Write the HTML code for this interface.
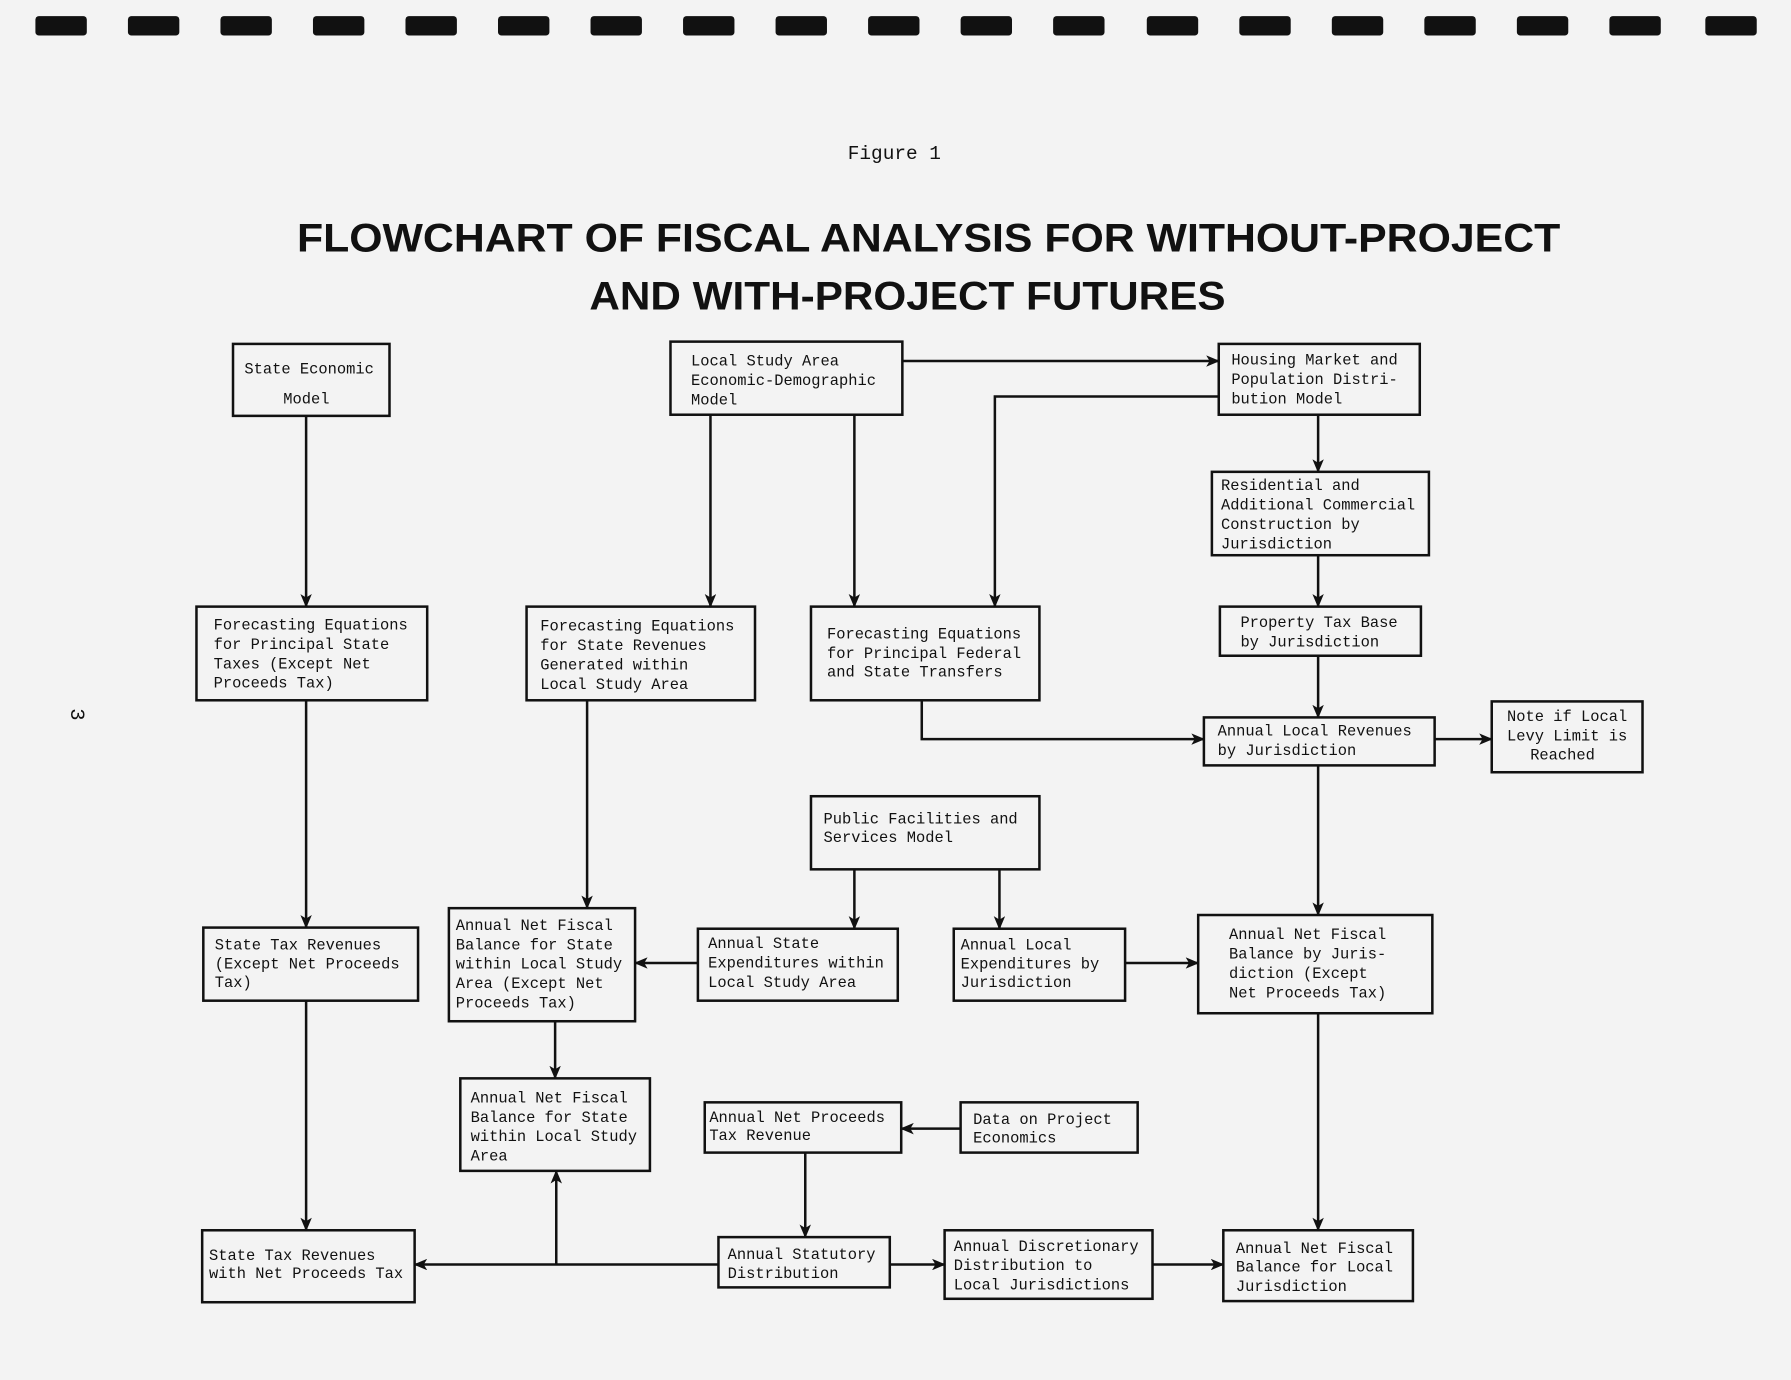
<!DOCTYPE html>
<html><head><meta charset="utf-8"><style>
html,body{margin:0;padding:0;background:#f3f3f3;}
svg{display:block}
.b{fill:none;stroke:#111;stroke-width:2.2}
.l{fill:none;stroke:#111;stroke-width:2.2}
text{font-family:"Liberation Mono",monospace;font-size:13.5px;fill:#111}
.t{font-family:"Liberation Sans",sans-serif;font-weight:bold;font-size:35px}
</style></head><body>
<svg width="1791" height="1380" viewBox="0 0 1568 1208" xmlns="http://www.w3.org/2000/svg">
<defs><marker id="a" markerWidth="12" markerHeight="10" refX="11" refY="5" orient="auto" markerUnits="userSpaceOnUse"><path d="M0,0 L12,5 L0,10 L3,5 z" fill="#111"/></marker></defs>
<g fill="#111">
<rect x="31" y="14" width="45" height="17" rx="3"/><rect x="112" y="14" width="45" height="17" rx="3"/><rect x="193" y="14" width="45" height="17" rx="3"/><rect x="274" y="14" width="45" height="17" rx="3"/><rect x="355" y="14" width="45" height="17" rx="3"/><rect x="436" y="14" width="45" height="17" rx="3"/><rect x="517" y="14" width="45" height="17" rx="3"/><rect x="598" y="14" width="45" height="17" rx="3"/><rect x="679" y="14" width="45" height="17" rx="3"/><rect x="760" y="14" width="45" height="17" rx="3"/><rect x="841" y="14" width="45" height="17" rx="3"/><rect x="922" y="14" width="45" height="17" rx="3"/><rect x="1004" y="14" width="45" height="17" rx="3"/><rect x="1085" y="14" width="45" height="17" rx="3"/><rect x="1166" y="14" width="45" height="17" rx="3"/><rect x="1247" y="14" width="45" height="17" rx="3"/><rect x="1328" y="14" width="45" height="17" rx="3"/><rect x="1409" y="14" width="45" height="17" rx="3"/><rect x="1493" y="14" width="45" height="17" rx="3"/>
</g>
<text x="783" y="139" text-anchor="middle" style="font-size:17px">Figure 1</text>
<text class="t" x="260" y="220" textLength="1106" lengthAdjust="spacingAndGlyphs">FLOWCHART OF FISCAL ANALYSIS FOR WITHOUT-PROJECT</text>
<text class="t" x="516" y="271" textLength="557" lengthAdjust="spacingAndGlyphs">AND WITH-PROJECT FUTURES</text>
<text x="62" y="620" transform="rotate(90 62 620)" style="font-size:18px">3</text>

<rect class="b" x="204" y="301" width="137" height="63"/>
<text x="214" y="327">State Economic</text><text x="248" y="353">Model</text>
<rect class="b" x="587" y="299" width="203" height="64"/>
<text x="605" y="320">Local Study Area</text><text x="605" y="337">Economic-Demographic</text><text x="605" y="354">Model</text>
<rect class="b" x="1067" y="301" width="176" height="62"/>
<text x="1078" y="319">Housing Market and</text><text x="1078" y="336">Population Distri-</text><text x="1078" y="353">bution Model</text>
<rect class="b" x="1061" y="413" width="190" height="73"/>
<text x="1069" y="429">Residential and</text><text x="1069" y="446">Additional Commercial</text><text x="1069" y="463">Construction by</text><text x="1069" y="480">Jurisdiction</text>
<rect class="b" x="172" y="531" width="202" height="82"/>
<text x="187" y="551">Forecasting Equations</text><text x="187" y="568">for Principal State</text><text x="187" y="585">Taxes (Except Net</text><text x="187" y="602">Proceeds Tax)</text>
<rect class="b" x="461" y="531" width="200" height="82"/>
<text x="473" y="552">Forecasting Equations</text><text x="473" y="569">for State Revenues</text><text x="473" y="586">Generated within</text><text x="473" y="603">Local Study Area</text>
<rect class="b" x="710" y="531" width="200" height="82"/>
<text x="724" y="559">Forecasting Equations</text><text x="724" y="576">for Principal Federal</text><text x="724" y="592">and State Transfers</text>
<rect class="b" x="1068" y="531" width="176" height="43"/>
<text x="1086" y="549">Property Tax Base</text><text x="1086" y="566">by Jurisdiction</text>
<rect class="b" x="1054" y="628" width="202" height="42"/>
<text x="1066" y="644">Annual Local Revenues</text><text x="1066" y="661">by Jurisdiction</text>
<rect class="b" x="1306" y="614" width="132" height="62"/>
<text x="1372" y="631" text-anchor="middle">Note if Local</text><text x="1372" y="648" text-anchor="middle">Levy Limit is</text><text x="1368" y="665" text-anchor="middle">Reached</text>
<rect class="b" x="710" y="697" width="200" height="64"/>
<text x="721" y="721">Public Facilities and</text><text x="721" y="737">Services Model</text>
<rect class="b" x="178" y="812" width="188" height="64"/>
<text x="188" y="831">State Tax Revenues</text><text x="188" y="848">(Except Net Proceeds</text><text x="188" y="864">Tax)</text>
<rect class="b" x="393" y="795" width="163" height="99"/>
<text x="399" y="814">Annual Net Fiscal</text><text x="399" y="831">Balance for State</text><text x="399" y="848">within Local Study</text><text x="399" y="865">Area (Except Net</text><text x="399" y="882">Proceeds Tax)</text>
<rect class="b" x="611" y="813" width="175" height="63"/>
<text x="620" y="830">Annual State</text><text x="620" y="847">Expenditures within</text><text x="620" y="864">Local Study Area</text>
<rect class="b" x="835" y="813" width="150" height="63"/>
<text x="841" y="831">Annual Local</text><text x="841" y="848">Expenditures by</text><text x="841" y="864">Jurisdiction</text>
<rect class="b" x="1049" y="801" width="205" height="86"/>
<text x="1076" y="822">Annual Net Fiscal</text><text x="1076" y="839">Balance by Juris-</text><text x="1076" y="856">diction (Except</text><text x="1076" y="873">Net Proceeds Tax)</text>
<rect class="b" x="403" y="944" width="166" height="81"/>
<text x="412" y="965">Annual Net Fiscal</text><text x="412" y="982">Balance for State</text><text x="412" y="999">within Local Study</text><text x="412" y="1016">Area</text>
<rect class="b" x="617" y="965" width="172" height="44"/>
<text x="621" y="982">Annual Net Proceeds</text><text x="621" y="998">Tax Revenue</text>
<rect class="b" x="841" y="965" width="155" height="44"/>
<text x="852" y="984">Data on Project</text><text x="852" y="1000">Economics</text>
<rect class="b" x="177" y="1077" width="186" height="63"/>
<text x="183" y="1103">State Tax Revenues</text><text x="183" y="1119">with Net Proceeds Tax</text>
<rect class="b" x="629" y="1083" width="150" height="44"/>
<text x="637" y="1102">Annual Statutory</text><text x="637" y="1119">Distribution</text>
<rect class="b" x="827" y="1077" width="182" height="60"/>
<text x="835" y="1095">Annual Discretionary</text><text x="835" y="1112">Distribution to</text><text x="835" y="1129">Local Jurisdictions</text>
<rect class="b" x="1071" y="1077" width="166" height="62"/>
<text x="1082" y="1097">Annual Net Fiscal</text><text x="1082" y="1113">Balance for Local</text><text x="1082" y="1130">Jurisdiction</text>

<g class="l" marker-end="url(#a)">
<path d="M268 364V531"/><path d="M268 613V812"/><path d="M268 876V1077"/>
<path d="M622 363V531"/><path d="M748 363V531"/>
<path d="M790 316H1067"/>
<path d="M1067 347H871V531"/>
<path d="M1154 363V413"/><path d="M1154 486V531"/><path d="M1154 574V628"/>
<path d="M807 613V647H1054"/>
<path d="M1256 647H1306"/>
<path d="M1154 670V801"/><path d="M1154 887V1077"/>
<path d="M514 613V795"/>
<path d="M748 761V813"/><path d="M875 761V813"/>
<path d="M611 843H556"/><path d="M985 843H1049"/>
<path d="M486 894V944"/>
<path d="M841 988H789"/>
<path d="M705 1009V1083"/>
<path d="M629 1107H363"/>
<path d="M487 1107V1025"/>
<path d="M779 1107H827"/><path d="M1009 1107H1071"/>
</g>
</svg>
</body></html>
